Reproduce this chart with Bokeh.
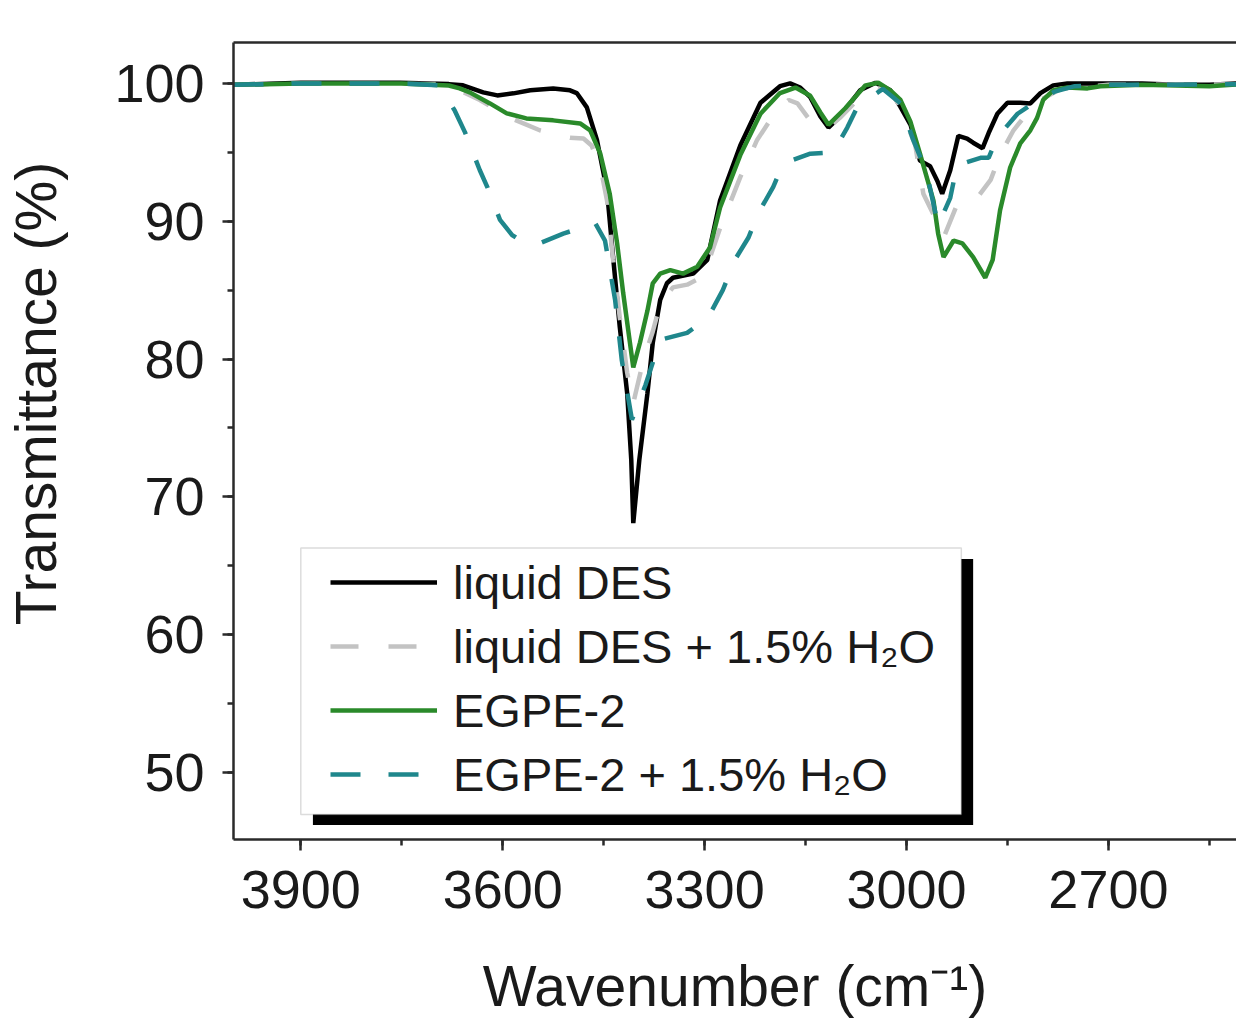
from bokeh.plotting import figure
from bokeh.models import (Range1d, LinearAxis, SingleIntervalTicker, FixedTicker,
                          Legend, LegendItem, BoxAnnotation)
from bokeh.embed import file_html
from bokeh.resources import INLINE

# ---------------- data ----------------
des_x = [4000, 3900, 3753, 3680, 3659, 3629, 3608, 3584, 3559, 3525, 3500, 3490,
         3475, 3460, 3445, 3436, 3426, 3415, 3409, 3406, 3397, 3385, 3377, 3366,
         3356, 3347, 3317, 3296, 3277, 3247, 3217, 3188, 3173, 3158, 3143, 3128,
         3116, 3099, 3069, 3046, 3024, 3009, 2994, 2980, 2965, 2954, 2947, 2935,
         2923, 2910, 2901, 2887, 2878, 2865, 2850, 2831, 2816, 2801, 2782, 2761,
         2700, 2650, 2600, 2550, 2505]
des_y = [99.9, 100.05, 100.05, 99.95, 99.86, 99.35, 99.13, 99.28, 99.5, 99.64, 99.5, 99.3,
         98.26, 95.9, 92.2, 87.4, 82.3, 77.5, 72.7, 68.1, 72.7, 77.5, 81.2, 84.3,
         85.5, 85.9, 86.2, 87.2, 91.5, 95.5, 98.6, 99.8, 100.0, 99.7, 99.0, 97.6,
         96.8, 97.6, 99.5, 100.05, 99.5, 98.3, 97.0, 94.4, 94.0, 92.9, 92.0, 93.7,
         96.2, 96.0, 95.7, 95.3, 96.4, 97.8, 98.6, 98.6, 98.55, 99.3, 99.86, 100.0,
         100.0, 100.0, 99.9, 99.9, 100.0]

des_w_x = [4000, 3900, 3700, 3678, 3634, 3589, 3545, 3500, 3480, 3468, 3455, 3445,
           3436, 3426, 3415, 3406, 3391, 3385, 3377, 3366, 3347, 3326, 3310, 3296,
           3277, 3247, 3222, 3203, 3188, 3175, 3162, 3143, 3116, 3099, 3069, 3046,
           3024, 3009, 2987, 2975, 2960, 2945, 2925, 2898, 2875, 2861, 2841, 2823,
           2801, 2771, 2700, 2600, 2505]
des_w_y = [99.9, 100.0, 99.95, 99.8, 98.8, 97.5, 96.6, 96.05, 96.0, 95.5, 94.0, 91.5,
           87.2, 83.0, 79.0, 76.8, 79.9, 80.8, 82.0, 84.0, 85.2, 85.4, 85.8, 86.8,
           89.5, 93.2, 95.9, 97.3, 98.2, 98.8, 98.55, 97.3, 96.8, 97.5, 99.0, 99.7,
           99.4, 98.3, 95.5, 92.0, 90.5, 88.8, 91.2, 91.5, 93.0, 94.8, 96.6, 97.7,
           98.8, 99.6, 99.9, 99.9, 99.95]

egpe_x = [4000, 3900, 3750, 3680, 3664, 3649, 3619, 3594, 3565, 3525, 3485, 3470,
          3455, 3441, 3430, 3421, 3411, 3406, 3396, 3385, 3377, 3366, 3351, 3332,
          3311, 3292, 3277, 3247, 3217, 3188, 3165, 3143, 3128, 3116, 3091, 3061,
          3042, 3024, 3009, 2994, 2980, 2960, 2953, 2945, 2930, 2917, 2901, 2883,
          2872, 2861, 2846, 2831, 2816, 2806, 2797, 2782, 2761, 2731, 2712, 2650,
          2600, 2550, 2505]
egpe_y = [99.9, 100.0, 100.0, 99.85, 99.64, 99.35, 98.55, 97.83, 97.46, 97.32, 97.1, 96.6,
          94.9, 92.0, 88.4, 84.8, 81.2, 79.4, 81.2, 83.5, 85.5, 86.2, 86.45, 86.2,
          86.7, 88.1, 91.0, 94.8, 97.8, 99.3, 99.7, 99.1, 97.9, 97.0, 98.2, 99.86,
          100.05, 99.5, 98.8, 97.2, 94.9, 91.5, 89.1, 87.4, 88.6, 88.4, 87.4, 85.9,
          87.2, 90.8, 93.9, 95.65, 96.6, 97.5, 98.8, 99.5, 99.7, 99.64, 99.8, 99.9,
          99.85, 99.8, 99.95]

egpe_w_x = [4000, 3900, 3750, 3693, 3671, 3656, 3634, 3623, 3604, 3586, 3567, 3545,
            3510, 3485, 3463, 3448, 3433, 3423, 3408, 3388, 3378, 3366, 3326, 3295,
            3273, 3255, 3235, 3220, 3198, 3183, 3143, 3109, 3088, 3072, 3035, 3009,
            2990, 2970, 2953, 2935, 2925, 2890, 2878, 2865, 2835, 2812, 2780, 2750,
            2700, 2600, 2505]
egpe_w_y = [99.9, 100.0, 100.0, 99.86, 98.0, 96.45, 93.7, 92.5, 90.1, 89.0, 88.4, 88.4,
            89.1, 89.5, 89.9, 88.6, 84.3, 79.9, 75.6, 78.1, 79.6, 81.4, 81.9, 83.0,
            85.0, 87.2, 88.8, 90.6, 92.5, 94.2, 94.9, 95.0, 96.8, 98.4, 99.6, 98.55,
            95.9, 93.5, 89.7, 91.7, 94.06, 94.6, 94.6, 96.1, 97.8, 98.55, 99.4, 99.8,
            99.9, 99.9, 99.95]

series_names = ["liquid DES", "liquid DES + 1.5% H\u2082O", "EGPE-2", "EGPE-2 + 1.5% H\u2082O"]
x_label = "Wavenumber (cm\u207b\u00b9)"
y_label = "Transmittance (%)"
y_ticks_interval = 10
x_ticks_interval = 300

# ---------------- figure ----------------
FONT = "Liberation Sans"
p = figure(width=1236, height=1020, output_backend="svg", toolbar_location=None,
           x_range=Range1d(4000, 2509.7), y_range=Range1d(45.14, 102.97),
           min_border_left=233, min_border_right=0, min_border_top=42,
           min_border_bottom=180)
p.outline_line_color = None
p.xgrid.visible = False
p.ygrid.visible = False
p.background_fill_color = "white"

r_des = p.line(des_x, des_y, line_color="#000000", line_width=4.5)
r_des_w = p.line(des_w_x, des_w_y, line_color="#c3c3c3", line_width=4.5, line_dash="28 30")
r_egpe = p.line(egpe_x, egpe_y, line_color="#2a8a2a", line_width=4.5)
r_egpe_w = p.line(egpe_w_x, egpe_w_y, line_color="#1f878c", line_width=4.5, line_dash="30 28")

for ax in (p.xaxis[0], p.yaxis[0]):
    ax.axis_line_width = 2.5
    ax.axis_line_color = "#2a2a2a"
    ax.major_tick_line_width = 2.5
    ax.major_tick_line_color = "#2a2a2a"
    ax.minor_tick_line_width = 2.5
    ax.minor_tick_line_color = "#2a2a2a"
    ax.major_tick_out = 11
    ax.major_tick_in = 0
    ax.minor_tick_out = 6
    ax.minor_tick_in = 0
    ax.major_label_text_font = FONT
    ax.major_label_text_font_size = "54px"
    ax.major_label_text_color = "#1a1a1a"
    ax.axis_label_text_font = FONT
    ax.axis_label_text_font_size = "57px"
    ax.axis_label_text_font_style = "normal"
    ax.axis_label_text_color = "#1a1a1a"

p.xaxis.ticker = SingleIntervalTicker(interval=x_ticks_interval, num_minor_ticks=2)
p.yaxis.ticker = SingleIntervalTicker(interval=y_ticks_interval, num_minor_ticks=2)
p.xaxis.axis_label = x_label
# leading no-break spaces lift the rotated label, as in the reference
p.yaxis.axis_label = "\u00a0" * 6 + y_label
p.xaxis.major_label_standoff = 20
p.xaxis.axis_label_standoff = 43
p.yaxis.major_label_standoff = 18
p.yaxis.axis_label_standoff = 43

top_axis = LinearAxis(axis_line_width=2.5, axis_line_color="#2a2a2a",
                      ticker=FixedTicker(ticks=[]),
                      major_tick_line_color=None, minor_tick_line_color=None)
p.add_layout(top_axis, "above")

# legend frame with drop shadow
shadow = BoxAnnotation(left=3882, right=2901, top=65.5, bottom=46.2,
                       fill_color="black", fill_alpha=1.0, line_color=None)
box = BoxAnnotation(left=3900, right=2918.6, top=66.3, bottom=46.96,
                    fill_color="white", fill_alpha=1.0, line_color="#8a8a8a",
                    line_width=1.5)
p.add_layout(shadow)
p.add_layout(box)

legend = Legend(items=[LegendItem(label=series_names[0], renderers=[r_des]),
                       LegendItem(label=series_names[1], renderers=[r_des_w]),
                       LegendItem(label=series_names[2], renderers=[r_egpe]),
                       LegendItem(label=series_names[3], renderers=[r_egpe_w])],
                location=(97, 37), padding=0, margin=0, spacing=8,
                glyph_width=107, glyph_height=56, label_height=56,
                label_standoff=16, label_text_font=FONT,
                label_text_font_size="47px", label_text_color="#1a1a1a",
                background_fill_alpha=0, border_line_color=None)
p.add_layout(legend)

open("out.html", "w").write(file_html(p, INLINE))
